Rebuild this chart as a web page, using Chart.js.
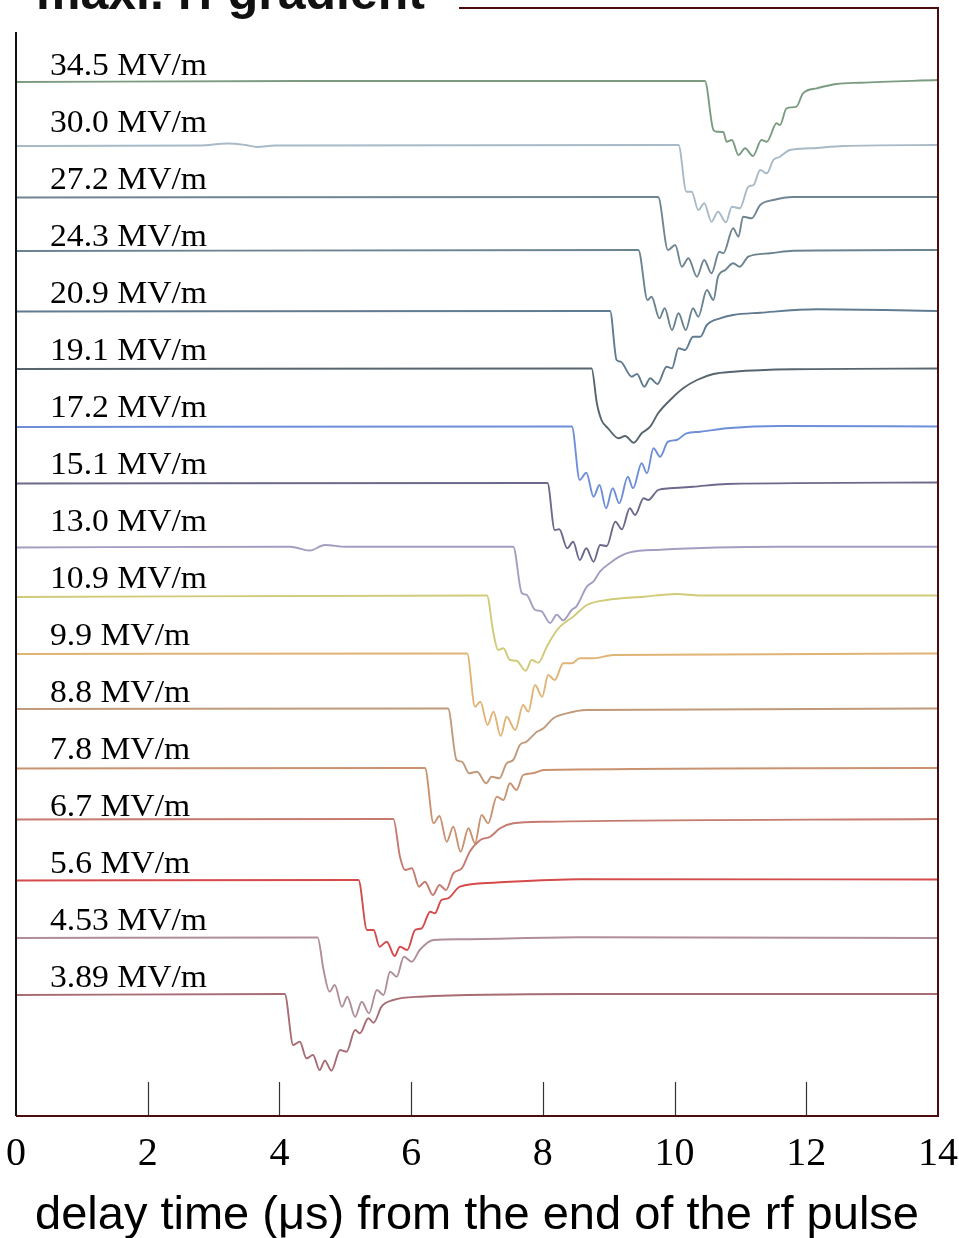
<!DOCTYPE html>
<html>
<head>
<meta charset="utf-8">
<script src="https://cdn.jsdelivr.net/npm/chart.js@4/dist/chart.umd.min.js"></script>
<style>
  html, body { margin: 0; padding: 0; background: #fff; overflow: hidden; }
  #wrap { width: 959px; height: 1238px; position: relative; }
</style>
</head>
<body>
<div id="wrap"><canvas id="c" width="959" height="1238"></canvas></div>
<script>
// Maximum rf gradient of each run, top trace first
const gradients = ['34.5', '30.0', '27.2', '24.3', '20.9', '19.1', '17.2', '15.1', '13.0',
                   '10.9', '9.9', '8.8', '7.8', '6.7', '5.6', '4.53', '3.89'];

// Vertical offset of each trace's baseline (arb. units)
const baselines = [103.5, 97.1, 91.9, 86.6, 80.5, 74.7, 68.95, 63.3, 56.93,
                   52.05, 46.25, 40.75, 34.8, 29.7, 23.6, 17.85, 12.2];

// Each trace: [delay time (µs), signal change relative to its baseline]
const trace345 = [[0,-0.1],[4.31,0],[10.46,0],[10.59,-4.9],[10.64,-5.07],[10.74,-5.1],[10.79,-6.07],[10.87,-5.9],[10.97,-7.4],[11.07,-6.73],[11.19,-7.5],[11.32,-5.9],[11.40,-6.07],[11.55,-4.23],[11.60,-4.4],[11.70,-2.73],[11.85,-2.57],[11.95,-1.23],[12.16,-0.73],[12.46,-0.3],[12.82,-0.17],[14,0.1]];
const trace300 = [[0,-0.1],[2.79,-0.05],[3.22,0.15],[3.48,0],[3.66,-0.2],[3.93,-0.05],[10.06,0],[10.18,-4.67],[10.26,-4.67],[10.36,-6.5],[10.45,-5.83],[10.56,-7.67],[10.66,-6.67],[10.78,-7.73],[10.87,-6.17],[10.99,-6.33],[11.12,-4.17],[11.20,-4.0],[11.30,-2.5],[11.40,-2.83],[11.50,-1.5],[11.60,-1.17],[11.75,-0.5],[12.06,-0.33],[12.56,-0.1],[14,0]];
const trace272 = [[0,-0.05],[9.75,0],[9.90,-5.3],[10.01,-4.8],[10.11,-6.97],[10.21,-6.13],[10.34,-7.97],[10.45,-6.3],[10.56,-7.63],[10.68,-5.47],[10.74,-5.63],[10.89,-3.13],[10.97,-3.97],[11.04,-1.97],[11.17,-2.13],[11.30,-0.8],[11.50,-0.3],[11.80,0],[14,0]];
const trace243 = [[0,-0.1],[9.45,0],[9.59,-5.0],[9.65,-4.67],[9.77,-6.83],[9.85,-5.83],[9.96,-8.0],[10.06,-6.33],[10.17,-8.0],[10.28,-5.83],[10.36,-6.67],[10.49,-4.0],[10.59,-5.0],[10.66,-2.67],[10.77,-2.0],[10.89,-1.33],[10.99,-1.67],[11.12,-0.67],[11.45,-0.33],[11.80,-0.07],[14,0]];
const trace209 = [[0,-0.05],[9.02,0],[9.12,-4.9],[9.18,-5.07],[9.35,-6.57],[9.43,-6.3],[9.54,-7.57],[9.63,-6.73],[9.74,-7.3],[9.88,-5.57],[9.96,-5.73],[10.06,-3.73],[10.16,-3.9],[10.28,-2.57],[10.39,-2.57],[10.49,-1.4],[10.69,-0.73],[10.89,-0.4],[11.30,-0.17],[12.16,0.17],[14,0]];
const trace191 = [[0,0],[8.74,0.05],[8.82,-3.43],[8.89,-5.1],[8.99,-5.93],[9.15,-6.93],[9.25,-6.7],[9.38,-7.37],[9.50,-6.43],[9.63,-5.77],[9.75,-4.43],[9.96,-2.93],[10.13,-1.93],[10.34,-1.1],[10.59,-0.5],[10.89,-0.27],[11.80,-0.03],[14,0.05]];
const trace172 = [[0,-0.05],[8.44,0],[8.56,-5.35],[8.66,-4.62],[8.77,-7.02],[8.86,-5.85],[8.96,-8.18],[9.06,-6.18],[9.16,-7.68],[9.29,-5.02],[9.37,-6.18],[9.50,-3.68],[9.58,-4.68],[9.68,-2.18],[9.78,-3.02],[9.90,-1.52],[10.03,-1.35],[10.18,-0.68],[10.39,-0.52],[10.79,-0.18],[11.60,0.05],[14,0]];
const trace151 = [[0,-0.05],[8.07,0],[8.18,-4.7],[8.25,-4.63],[8.37,-6.53],[8.46,-5.87],[8.56,-7.7],[8.66,-6.53],[8.77,-7.87],[8.87,-6.2],[8.97,-6.3],[9.10,-3.87],[9.20,-4.63],[9.32,-2.53],[9.40,-3.2],[9.53,-1.53],[9.60,-1.7],[9.75,-0.7],[9.93,-0.53],[10.28,-0.37],[10.79,-0.1],[14,0.05]];
const trace130 = [[0,-0.08],[4.16,0],[4.46,-0.38],[4.69,0.17],[5.0,0],[7.55,0],[7.68,-4.63],[7.75,-4.8],[7.88,-6.3],[7.98,-6.47],[8.11,-7.63],[8.21,-6.8],[8.31,-7.37],[8.44,-6.3],[8.51,-5.97],[8.67,-3.97],[8.77,-3.47],[8.87,-2.47],[9.02,-1.63],[9.17,-0.97],[9.32,-0.57],[9.78,-0.3],[11.60,0],[14,0]];
const trace109 = [[0,-0.15],[7.15,0],[7.25,-3.78],[7.32,-5.45],[7.40,-5.28],[7.50,-6.45],[7.60,-6.52],[7.74,-7.52],[7.83,-6.45],[7.93,-6.72],[8.06,-5.12],[8.18,-3.78],[8.26,-3.12],[8.46,-2.12],[8.67,-0.95],[8.97,-0.45],[9.53,-0.12],[10.03,0.15],[10.39,0],[14,0]];
const trace99  = [[0,-0.05],[6.85,0],[6.97,-5.32],[7.05,-4.82],[7.16,-7.15],[7.25,-5.82],[7.36,-8.25],[7.45,-6.32],[7.58,-7.65],[7.70,-5.15],[7.78,-5.82],[7.88,-3.15],[7.99,-4.32],[8.08,-2.15],[8.18,-2.65],[8.31,-0.98],[8.44,-0.98],[8.56,-0.48],[8.77,-0.48],[9.07,-0.15],[14,0]];
const trace88  = [[0,-0.05],[6.56,0],[6.69,-5.15],[6.77,-5.32],[6.88,-6.48],[7.00,-6.32],[7.14,-7.48],[7.22,-6.82],[7.34,-6.98],[7.45,-5.48],[7.55,-5.15],[7.65,-3.65],[7.75,-3.32],[7.91,-2.32],[8.01,-1.98],[8.16,-0.98],[8.36,-0.48],[8.67,-0.15],[14,0]];
const trace78  = [[0,-0.05],[6.21,0],[6.34,-5.53],[6.43,-4.8],[6.54,-7.37],[6.64,-5.87],[6.75,-8.37],[6.87,-6.03],[6.97,-7.53],[7.07,-4.7],[7.17,-5.53],[7.30,-2.87],[7.40,-3.2],[7.50,-1.53],[7.60,-2.2],[7.70,-0.7],[7.85,-0.53],[8.01,-0.2],[14,0]];
const trace67  = [[0,-0.05],[5.73,0],[5.83,-3.77],[5.91,-5.1],[6.01,-4.93],[6.12,-6.77],[6.21,-6.27],[6.33,-7.6],[6.43,-6.6],[6.53,-7.1],[6.64,-5.43],[6.77,-4.93],[6.89,-3.27],[7.05,-2.1],[7.20,-1.77],[7.35,-0.93],[7.55,-0.43],[8.06,-0.27],[14,0]];
const trace56  = [[0,-0.05],[5.20,0],[5.33,-5.0],[5.43,-5.0],[5.52,-6.67],[5.63,-6.17],[5.75,-7.6],[5.83,-6.67],[5.94,-7.0],[6.06,-5.0],[6.16,-4.83],[6.29,-3.17],[6.36,-3.33],[6.46,-2.0],[6.56,-1.83],[6.74,-0.67],[7.25,-0.27],[8.56,0.07],[14,0.05]];
const trace453 = [[0,-0.05],[4.58,0],[4.67,-3.25],[4.76,-5.42],[4.84,-4.75],[4.95,-6.92],[5.03,-5.92],[5.15,-7.92],[5.25,-6.42],[5.36,-7.58],[5.48,-5.25],[5.58,-5.75],[5.68,-3.42],[5.78,-3.92],[5.89,-1.92],[6.01,-2.42],[6.13,-1.25],[6.34,-0.25],[6.74,-0.18],[8.56,0.02],[14,-0.05]];
const trace389 = [[0,-0.1],[4.08,0],[4.21,-5.1],[4.31,-4.77],[4.41,-6.43],[4.51,-6.1],[4.61,-7.6],[4.69,-6.67],[4.79,-7.67],[4.92,-5.6],[5.02,-5.77],[5.15,-3.6],[5.22,-3.93],[5.35,-2.43],[5.43,-2.87],[5.55,-1.27],[5.73,-0.6],[6.13,-0.27],[8.56,0],[14,0]];

const traces = [trace345, trace300, trace272, trace243, trace209, trace191, trace172, trace151, trace130,
                trace109, trace99, trace88, trace78, trace67, trace56, trace453, trace389];

// X axis tick values (µs)
const timeTicks = [0, 2, 4, 6, 8, 10, 12, 14];

// Line colours, top trace first
const colors = ['#7c9c82', '#a8bac7', '#6f8592', '#6a8390', '#617b90', '#57656e', '#6e8fd8', '#6c6a8c', '#a39dc2',
                '#d1ca78', '#e0b476', '#c09a7a', '#c99270', '#c57b6f', '#d54a4a', '#b08e98', '#a86c74'];

// Gradient labels sit on an even ladder above the traces
const LABEL_TOP = 104.1;
const LABEL_STEP = 5.7;

const datasets = traces.map((tr, i) => ({
  label: gradients[i] + ' MV/m',
  data: tr.map(([t, d]) => ({ x: t, y: baselines[i] + d })),
  borderColor: colors[i],
  borderWidth: 1.9,
  pointRadius: 0,
  fill: false,
  cubicInterpolationMode: 'monotone'
}));

const decor = {
  id: 'decor',
  afterDatasetsDraw(chart) {
    const { ctx, chartArea: a, scales: { x, y } } = chart;
    ctx.save();

    // tick marks pointing up into the plot
    ctx.strokeStyle = '#333';
    ctx.lineWidth = 1.2;
    timeTicks.forEach(v => {
      if (v <= x.min || v >= x.max) return;
      const px = Math.round(x.getPixelForValue(v)) + 0.5;
      ctx.beginPath();
      ctx.moveTo(px, a.bottom);
      ctx.lineTo(px, a.bottom - 34);
      ctx.stroke();
    });

    // heading, partly above the page edge
    ctx.fillStyle = '#111';
    ctx.font = 'bold 50px "Liberation Sans", Arial, sans-serif';
    ctx.textBaseline = 'alphabetic';
    ctx.textAlign = 'left';
    const heading = 'maxi. rf gradient';
    ctx.fillText(heading, 36, 9);
    const headEnd = 36 + ctx.measureText(heading).width;

    // frame
    ctx.lineWidth = 2;
    ctx.strokeStyle = '#111';
    ctx.beginPath();
    ctx.moveTo(a.left, a.top + 24);
    ctx.lineTo(a.left, a.bottom);
    ctx.stroke();
    ctx.strokeStyle = '#4a0c0c';
    ctx.beginPath();
    ctx.moveTo(a.left, a.bottom);
    ctx.lineTo(a.right, a.bottom);
    ctx.lineTo(a.right, a.top);
    ctx.lineTo(headEnd + 34, a.top);
    ctx.stroke();

    // gradient labels
    ctx.fillStyle = '#000';
    ctx.font = '31px "Liberation Serif", "Times New Roman", serif';
    gradients.forEach((g, i) => {
      const py = y.getPixelForValue(LABEL_TOP - i * LABEL_STEP);
      ctx.save();
      ctx.translate(a.left + 34, py);
      ctx.scale(1.085, 1);
      ctx.fillText(g + ' MV/m', 0, 0);
      ctx.restore();
    });

    ctx.restore();
  }
};

new Chart(document.getElementById('c'), {
  type: 'line',
  data: { datasets },
  options: {
    responsive: false,
    animation: false,
    devicePixelRatio: 1,
    layout: { padding: { left: 16, right: 21, top: 8, bottom: 0 } },
    plugins: { legend: { display: false }, tooltip: { enabled: false } },
    scales: {
      x: {
        type: 'linear',
        min: 0,
        max: 14,
        afterBuildTicks(scale) { scale.ticks = timeTicks.map(v => ({ value: v })); },
        afterFit(scale) {
          scale.height = 122;
          scale.paddingLeft = 0;
          scale.paddingRight = 0;
        },
        grid: { display: false, drawTicks: false },
        border: { display: false },
        ticks: {
          color: '#000',
          padding: 14,
          maxRotation: 0,
          autoSkip: false,
          font: { family: '"Liberation Serif", "Times New Roman", serif', size: 40 }
        },
        title: {
          display: true,
          text: 'delay time (μs) from the end of the rf pulse',
          color: '#000',
          padding: { top: 0, bottom: -2 },
          font: { family: '"Liberation Sans", Arial, sans-serif', size: 47, lineHeight: 1 }
        }
      },
      y: { display: false, min: 0, max: 110.8 }
    }
  },
  plugins: [decor]
});
</script>
</body>
</html>
